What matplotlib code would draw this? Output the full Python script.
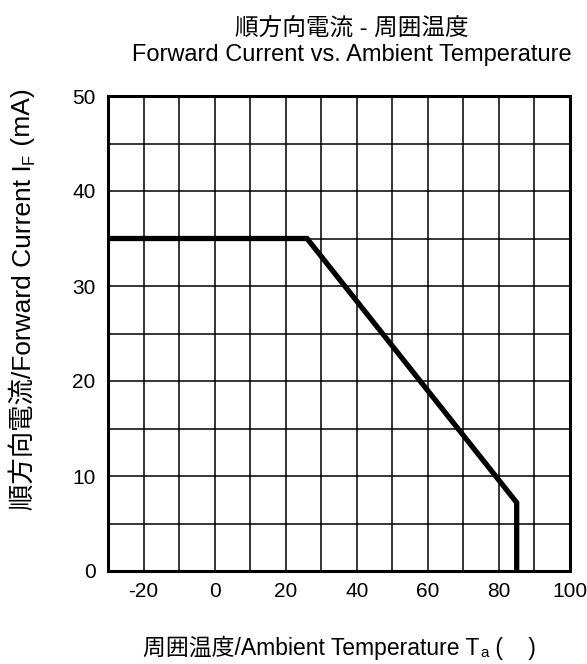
import matplotlib
matplotlib.use("Agg")
import matplotlib.pyplot as plt

plt.rcParams['font.family'] = ['Liberation Sans', 'Noto Sans CJK JP']
plt.rcParams['axes.unicode_minus'] = False

# derating curve
temp = [-30, 26, 85, 85]
current = [35, 35, 7.2, 0]

x_ticks = [-20, 0, 20, 40, 60, 80, 100]
y_ticks = [0, 10, 20, 30, 40, 50]
x_grid = [-20, -10, 0, 10, 20, 30, 40, 50, 60, 70, 80, 90]
y_grid = [5, 10, 15, 20, 25, 30, 35, 40, 45]

W, H = 587, 664
fig = plt.figure(figsize=(W / 100, H / 100), dpi=100)
ax = fig.add_axes([108 / W, 1 - 571 / H, (570 - 108) / W, (571 - 96) / H])

ax.set_xlim(-30, 100)
ax.set_ylim(0, 50)
for gx in x_grid:
    ax.axvline(gx, color='black', lw=1.1, zorder=1)
for gy in y_grid:
    ax.axhline(gy, color='black', lw=1.1, zorder=1)

ax.plot(temp, current, color='black', lw=3.8, solid_joinstyle='miter', zorder=3)

ax.set_xticks(x_ticks)
ax.set_yticks(y_ticks)
ax.tick_params(length=0, labelsize=15)
ax.tick_params(axis='x', pad=8)
ax.tick_params(axis='y', pad=9)
for s in ax.spines.values():
    s.set_linewidth(2.2)

# titles
fig.text(352 / W, 1 - 35 / H, '順方向電流 - 周囲温度', ha='center', va='baseline', fontsize=17)
fig.text(352 / W, 1 - 61 / H, 'Forward Current vs. Ambient Temperature',
         ha='center', va='baseline', fontsize=17)

# x label with subscript a
xl = fig.text(143 / W, 1 - 655 / H, '周囲温度/Ambient Temperature T',
              ha='left', va='baseline', fontsize=16.5)
xs = ax.annotate('a', xy=(1, 0), xycoords=xl, xytext=(0.5, 0), textcoords='offset points',
                 ha='left', va='bottom', fontsize=11)
ax.annotate(' (    )', xy=(1, 0), xycoords=(xs, xl), ha='left', va='bottom', fontsize=16.5)

# y label with subscript F
yl = fig.text(23 / W, 1 - 510 / H, '順方向電流/Forward Current I',
              ha='center', va='bottom', rotation=90, fontsize=19)
ys = ax.annotate('F', xy=(1, 1), xycoords=yl, xytext=(1, 0.5), textcoords='offset points',
                 ha='right', va='bottom', rotation=90, fontsize=12)
ax.annotate(' (mA)', xy=(1, 1), xycoords=(yl, ys), ha='right', va='bottom',
            rotation=90, fontsize=19)

fig.savefig('out.png', dpi=100)
